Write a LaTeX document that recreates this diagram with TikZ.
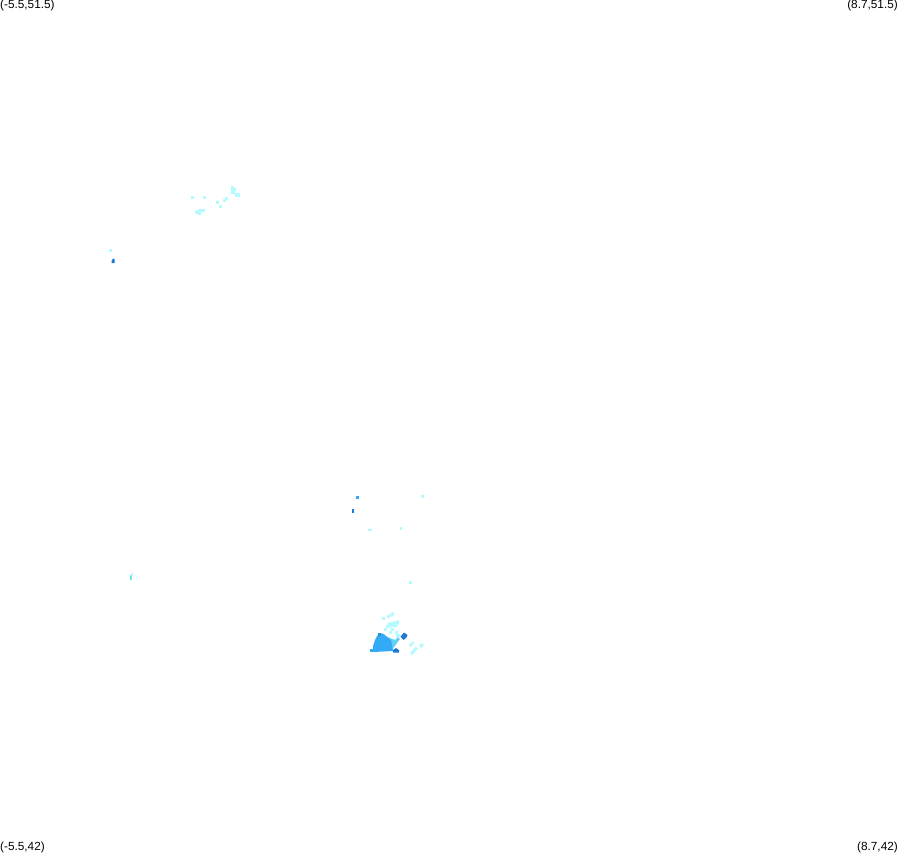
\documentclass[tikz,border=0pt]{standalone}
\usepackage{fontspec}
\setmainfont{Liberation Sans}
\definecolor{pale}{HTML}{B4FBFF}
\definecolor{cyanm}{HTML}{66E4F4}
\definecolor{mid}{HTML}{33AAF5}
\definecolor{deep}{HTML}{1E78DC}
\definecolor{lightb}{HTML}{66CCF8}
\tikzset{
  corner/.style={font=\fontsize{11.8pt}{13pt}\selectfont,text=black,inner sep=0pt},
  palefill/.style={fill=pale,draw=none},
  midfill/.style={fill=mid,draw=none},
  deepfill/.style={fill=deep,draw=none},
  lightfill/.style={fill=lightb,draw=none}
}
\newcommand{\px}[3]{\fill[#1] (#2,#3) rectangle ++(3,3);}
\begin{document}
\begin{tikzpicture}[x=1pt,y=-1pt]
\useasboundingbox[fill=white] (0,0) rectangle (899,852);
\node[corner,anchor=north west] (tl) at (0,-0.5) {(-5.5,51.5)};
\node[corner,anchor=north east] (tr) at (898,-0.5) {(8.7,51.5)};
\node[corner,anchor=north west] (bl) at (0,841.5) {(-5.5,42)};
\node[corner,anchor=north east] (br) at (898,841.5) {(8.7,42)};
% north cluster
\foreach \a/\b in {191/196,203/196,216/201,219/205,223/199,225/197,231/186,196/210,199/209,202/209,198/212,195/211}{\px{palefill}{\a}{\b}}
\fill[palefill] (231,189) rectangle (235,194);
\fill[palefill] (233,188) rectangle (236,191);
\fill[palefill] (235,193) rectangle (240,197);
% Brittany point
\px{palefill}{109}{249}
\fill[deepfill] (111.5,261) -- (113,258.5) -- (114.5,259) -- (114.5,263) -- (111.5,263) -- cycle;
% west
\fill[cyanm] (130,575) rectangle (132,580);
\fill[pale] (131,573) rectangle (133,576);
% centre
\fill[midfill] (356,496) rectangle (359,498.5);
\fill[deepfill] (352,509) rectangle (354,512.5);
\px{palefill}{421}{495}
\fill[palefill] (368,528.5) rectangle (371.5,531);
\fill[palefill] (399.5,527) rectangle (402,530);
\px{palefill}{409}{581}
% south cluster, pale
\fill[palefill] (389,615) -- (392,612) -- (395,613) -- (392,617) -- cycle;
\foreach \a/\b in {382/617,387/615,386/625,391/628,395/631,389/631,384/628}{\px{palefill}{\a}{\b}}
\fill[palefill] (387,623) -- (393,622) -- (399,620) -- (399,624) -- (396,627) -- (388,627) -- cycle;
\fill[palefill] (396,634) rectangle (400,637);
\fill[palefill] (408.5,645) -- (413,641) -- (414.5,642.5) -- (410.5,647) -- cycle;
\fill[palefill] (419,645.5) -- (422,643) -- (424,645) -- (421,648) -- cycle;
\fill[palefill] (410,652.5) -- (416,646.5) -- (418,648.5) -- (412,655) -- cycle;
% south cluster, main mass
\fill[lightfill] (385,636) -- (390,638) -- (395,640) -- (398,637) -- (400,639) -- (397,643) -- (394,647) -- (392,650) -- (385,650) -- cycle;
\fill[midfill] (377,636) -- (380,633) -- (384,634) -- (387,637) -- (391,640) -- (392,645) -- (393,651) -- (373,652) -- (373,646) -- (375,640) -- cycle;
\fill[midfill] (370,649) rectangle (372.5,651.5);
\fill[mid!85!black] (378,633) rectangle (381,636);
% deep spots
\fill[deepfill] (404,632.5) -- (407.5,635) -- (406.5,637.5) -- (403.5,640) -- (400.5,636.5) -- cycle;
\fill[deepfill] (393,650) -- (396,648) -- (399,650) -- (399,652.5) -- (393,652.5) -- cycle;
\end{tikzpicture}
\end{document}
